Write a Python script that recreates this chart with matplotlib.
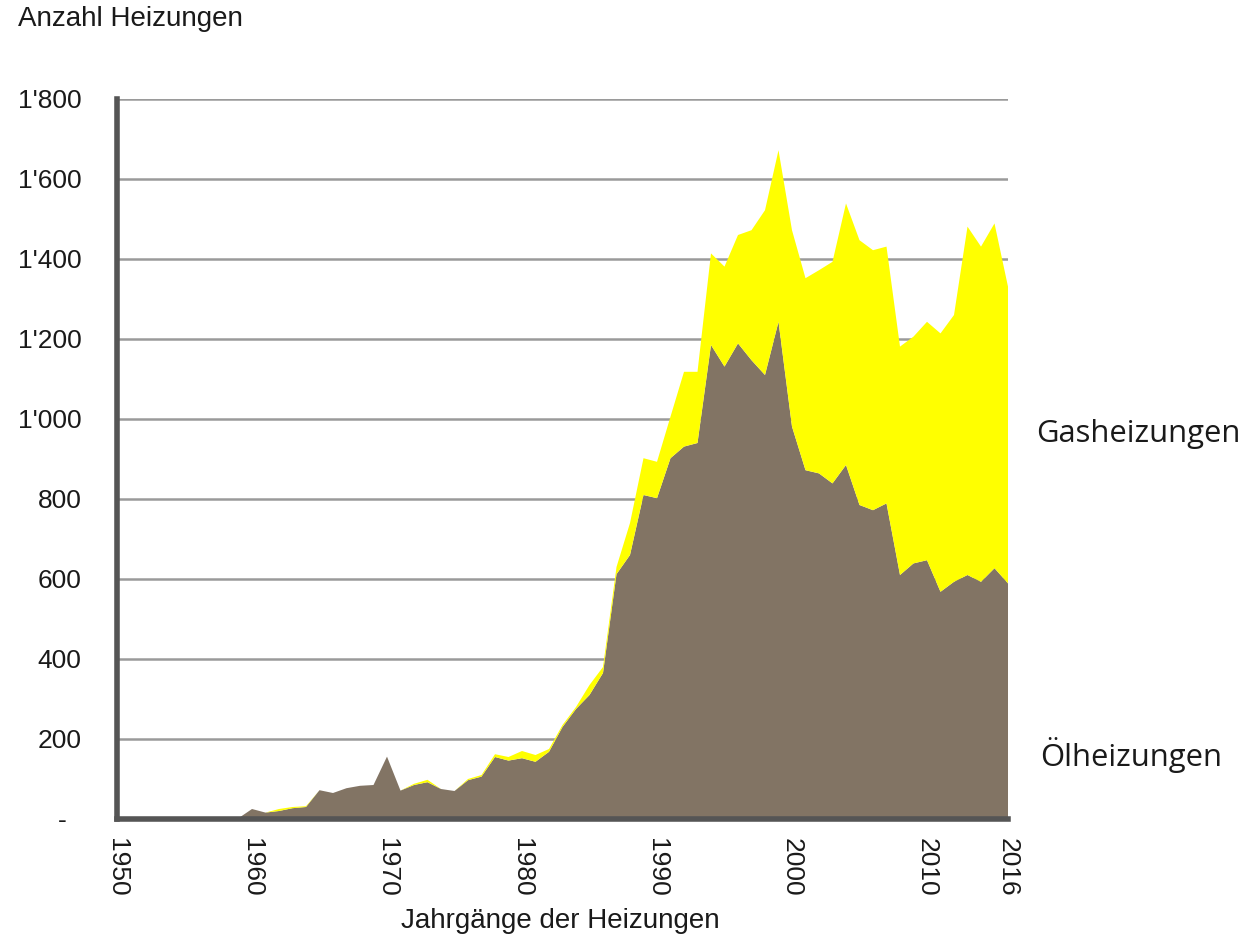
import matplotlib
matplotlib.use("Agg")
import matplotlib.pyplot as plt
import numpy as np

years = list(range(1950, 2017))
oil = [0, 0, 0, 0, 0, 0, 0, 0, 0, 2,
       25, 16, 20, 27, 30, 72, 65, 77, 83, 85,
       156, 71, 85, 92, 75, 70, 97, 106, 155, 146,
       152, 143, 168, 230, 275, 310, 365, 612, 660, 810,
       802, 902, 931, 940, 1185, 1131, 1189, 1147, 1110, 1243,
       981, 872, 864, 839, 885, 785, 772, 789, 610, 639,
       647, 568, 593, 610, 593, 627, 589]
total = [0, 0, 0, 0, 0, 0, 0, 0, 0, 2,
         25, 16, 25, 30, 32, 72, 65, 77, 83, 85,
         156, 71, 88, 98, 75, 70, 100, 110, 162, 155,
         170, 160, 175, 235, 280, 335, 380, 630, 740, 902,
         893, 1006, 1118, 1118, 1414, 1381, 1460, 1472, 1522, 1672,
         1472, 1352, 1372, 1393, 1539, 1447, 1422, 1431, 1181, 1206,
         1243, 1214, 1260, 1481, 1431, 1489, 1331]
gas = [t - o for t, o in zip(total, oil)]

yticks = [0, 200, 400, 600, 800, 1000, 1200, 1400, 1600, 1800]
ytick_labels = ["-  ", "200", "400", "600", "800", "1'000", "1'200", "1'400", "1'600", "1'800"]
xticks = [1950, 1960, 1970, 1980, 1990, 2000, 2010, 2016]
xtick_labels = [str(x) for x in xticks]
series_labels = ["Ölheizungen", "Gasheizungen"]

plt.rcParams['font.family'] = ['Liberation Sans', 'DejaVu Sans']

fig = plt.figure(figsize=(12.42, 9.40), dpi=100)
ax = fig.add_axes([117/1242, 1 - 819/940, (1008-117)/1242, (819-99)/940])

ax.stackplot(years, oil, gas, colors=["#827464", "#ffff00"], linewidth=0)

ax.set_xlim(1950, 2016)
ax.set_ylim(0, 1800)
ax.set_yticks(yticks)
ax.set_yticklabels(ytick_labels, fontsize=19, color="#1a1a1a")
ax.set_xticks(xticks)
ax.set_xticklabels(xtick_labels, rotation=-90, fontsize=19, color="#1a1a1a", va="top", ha="center")
ax.tick_params(axis="y", length=0, pad=25.5)
ax.tick_params(axis="x", length=0, pad=14)

ax.set_axisbelow(True)
ax.yaxis.grid(True, color="#9a9a9a", linewidth=1.8)
ax.xaxis.grid(False)

for s in ["top", "right"]:
    ax.spines[s].set_visible(False)
ax.spines["left"].set_color("#555555")
ax.spines["left"].set_linewidth(4)
ax.spines["bottom"].set_color("#555555")
ax.spines["bottom"].set_linewidth(4)
ax.spines["left"].set_zorder(5)
ax.spines["bottom"].set_zorder(5)

fig.text(18/1242, 1 - 19/940, "Anzahl Heizungen", fontsize=20, color="#1a1a1a", ha="left", va="center")
fig.text(560/1242, 1 - 921/940, "Jahrgänge der Heizungen", fontsize=20, color="#1a1a1a", ha="center", va="center")

fig.text(1036/1242, 1 - 434/940, series_labels[1], fontsize=22.3, family="Open Sans", color="#1a1a1a", ha="left", va="center")
fig.text(1040/1242, 1 - 755/940, series_labels[0], fontsize=22.3, family="Open Sans", color="#1a1a1a", ha="left", va="center")

fig.savefig("out.png", dpi=100, facecolor="white")
